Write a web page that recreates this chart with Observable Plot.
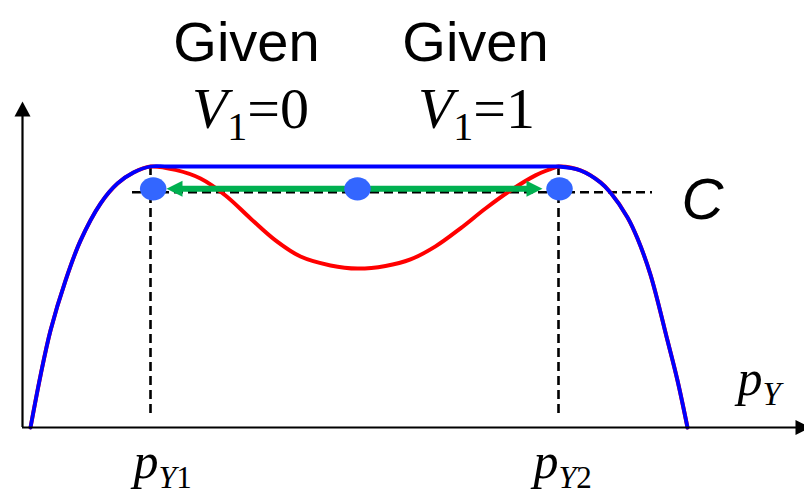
<!DOCTYPE html>
<html><head><meta charset="utf-8">
<script src="https://cdn.jsdelivr.net/npm/d3@7"></script>
<script src="https://cdn.jsdelivr.net/npm/@observablehq/plot@0.6"></script>
<style>html,body{margin:0;padding:0;background:#fff;} svg{display:block;}</style>
</head><body><div id="chart"></div>
<script>
// ---- data ----
const curveX = [0.8, 1.8, 2.8, 4.3, 5.8, 7.8, 9.5, 11.1, 12.8,
  15.3, 17.8, 20.3, 22.8, 25.3, 27.8, 30.8, 33.5, 36.3, 38.8, 41.3, 43.8, 46.3, 48.8, 51.3, 52.8, 53.6,
  55.8, 57.8, 58.8, 60.5, 61.5, 62.8, 64.5, 65.5, 66.5];
const curveY = [0, 19.9, 37.2, 56.3, 71.6, 85.8, 93.5, 97.7, 100,
  98.7, 95.4, 88.9, 80.1, 71.7, 65.5, 62.1, 60.9, 61.9, 64.4, 69.4, 76.3, 83.9, 90.8, 96.6, 99.0, 100,
  98.5, 93.9, 90.0, 80.5, 72.4, 58.5, 33.3, 18.0, 0];
const pY1 = 12.8, pY2 = 53.6, peak = 100;
const flatX = [14.6, 33.2, 51.8];
const cLevel = 90.15, cFrom = 11.0, cTo = 63.0, dropBottom = 4.2;
const dotX = [13.07, 33.5, 53.7];
const dotLevel = 91.45;
const arrowTips = [14.4, 52.0];
const shaftEnds = [15.4, 51.0];
const axisXEnd = 77.6, axisXTip = 78.8, axisYEnd = 123, axisYTip = 124.9;

const givenLabels = [{x: 22.4, y: 140.6, text: "Given"}, {x: 45.3, y: 140.6, text: "Given"}];
const vLabels = [{x: 22.8, y: 114.6, text: "V1=0"}, {x: 45.4, y: 114.6, text: "V1=1"}];
const cLabel = [{x: 65.9, y: 79.7, text: "C"}];
const pLabels = [{x: 71.5, y: 12.3, text: "pY"}, {x: 11.1, y: -19.5, text: "pY1"}, {x: 51.1, y: -19.5, text: "pY2"}];

const rich = {
  "V1=0": [{t: "V", italic: true}, {t: "1", size: 40, dy: 12}, {t: "=0", dy: -12}],
  "V1=1": [{t: "V", italic: true}, {t: "1", size: 40, dy: 12}, {t: "=1", dy: -12}],
  "pY": [{t: "p", italic: true}, {t: "Y", italic: true, size: 33, dy: 10}],
  "pY1": [{t: "p", italic: true}, {t: "Y", italic: true, size: 32, dy: 10}, {t: "1", size: 31}],
  "pY2": [{t: "p", italic: true}, {t: "Y", italic: true, size: 32, dy: 10}, {t: "2", size: 31}]
};

// ---- derived tables ----
const red = curveX.map((x, i) => ({x, y: curveY[i]}));
const blue = [
  ...red.filter(d => d.x <= pY1),
  ...flatX.map(x => ({x, y: peak})),
  ...red.filter(d => d.x >= pY2)
];

// ---- custom symbols ----
const ellipseSym = {draw(ctx, size) {
  const r = Math.sqrt(size / Math.PI), rx = r * 1.07, ry = r * 0.94, k = 0.5523;
  ctx.moveTo(rx, 0);
  ctx.bezierCurveTo(rx, ry * k, rx * k, ry, 0, ry);
  ctx.bezierCurveTo(-rx * k, ry, -rx, ry * k, -rx, 0);
  ctx.bezierCurveTo(-rx, -ry * k, -rx * k, -ry, 0, -ry);
  ctx.bezierCurveTo(rx * k, -ry, rx, -ry * k, rx, 0);
  ctx.closePath();
}};
const head = (L, W, dir) => ({draw(ctx) {
  ctx.moveTo(0, 0);
  if (dir === "right") { ctx.lineTo(-L, -W); ctx.lineTo(-L, W); }
  else if (dir === "left") { ctx.lineTo(L, -W); ctx.lineTo(L, W); }
  else { ctx.lineTo(-W, L); ctx.lineTo(W, L); }
  ctx.closePath();
}});

const serif = "'Liberation Serif', 'Times New Roman', serif";
const sans = "'Liberation Sans', Arial, sans-serif";

const plot = Plot.plot({
  width: 804, height: 496, margin: 0,
  style: {background: "#fff", overflow: "hidden"},
  x: {domain: [0, 78.2], range: [22, 804], axis: null},
  y: {domain: [0, 100], range: [427, 166], axis: null},
  marks: [
    Plot.ruleY([cLevel], {x1: cFrom, x2: cTo, stroke: "black", strokeWidth: 2.6, strokeDasharray: "9,5"}),
    Plot.ruleX([pY1, pY2], {y1: peak, y2: dropBottom, stroke: "black", strokeWidth: 2.6, strokeDasharray: "9,5"}),
    Plot.line(red, {x: "x", y: "y", stroke: "#ff0000", strokeWidth: 4, curve: "catmull-rom"}),
    Plot.line(blue, {x: "x", y: "y", stroke: "#0000ff", strokeWidth: 3.8, curve: "catmull-rom"}),
    // axes
    Plot.ruleY([0], {x1: 0, x2: axisXEnd, stroke: "black", strokeWidth: 2.2}),
    Plot.ruleX([0], {y1: 0, y2: axisYEnd, stroke: "black", strokeWidth: 2.2}),
    Plot.dot([axisXTip], {x: d => d, y: 0, symbol: head(15, 7.5, "right"), fill: "black", stroke: "none"}),
    Plot.dot([axisYTip], {x: 0, y: d => d, symbol: head(15, 8, "up"), fill: "black", stroke: "none"}),
    // green double arrow
    Plot.ruleY([dotLevel], {x1: shaftEnds[0], x2: shaftEnds[1], stroke: "#00b050", strokeWidth: 6}),
    Plot.dot([arrowTips[0]], {x: d => d, y: dotLevel, symbol: head(16, 8, "left"), fill: "#00b050", stroke: "none"}),
    Plot.dot([arrowTips[1]], {x: d => d, y: dotLevel, symbol: head(16, 8, "right"), fill: "#00b050", stroke: "none"}),
    Plot.dot(dotX, {x: d => d, y: dotLevel, r: 12.4, symbol: ellipseSym, fill: "#3366ff", stroke: "none"}),
    // labels
    Plot.text(givenLabels, {x: "x", y: "y", text: "text", fontFamily: sans, fontSize: 56, textAnchor: "middle", lineAnchor: "bottom", fill: "black"}),
    Plot.text(vLabels, {x: "x", y: "y", text: "text", fontFamily: serif, fontSize: 58, textAnchor: "middle", lineAnchor: "bottom", fill: "black"}),
    Plot.text(cLabel, {x: "x", y: "y", text: "text", fontFamily: sans, fontSize: 58, fontStyle: "italic", textAnchor: "start", lineAnchor: "bottom", fill: "black"}),
    Plot.text(pLabels, {x: "x", y: "y", text: "text", fontFamily: serif, fontSize: 50, textAnchor: "start", lineAnchor: "bottom", fill: "black"})
  ]
});

const NS = "http://www.w3.org/2000/svg";
plot.querySelectorAll("text").forEach(t => {
  const spec = rich[t.textContent];
  if (!spec) return;
  t.textContent = "";
  spec.forEach(s => {
    const ts = document.createElementNS(NS, "tspan");
    ts.textContent = s.t;
    ts.setAttribute("font-style", s.italic ? "italic" : "normal");
    if (s.size) ts.setAttribute("font-size", s.size);
    if (s.dy) ts.setAttribute("dy", s.dy);
    t.appendChild(ts);
  });
});
document.getElementById("chart").appendChild(plot);
</script>
</body></html>
